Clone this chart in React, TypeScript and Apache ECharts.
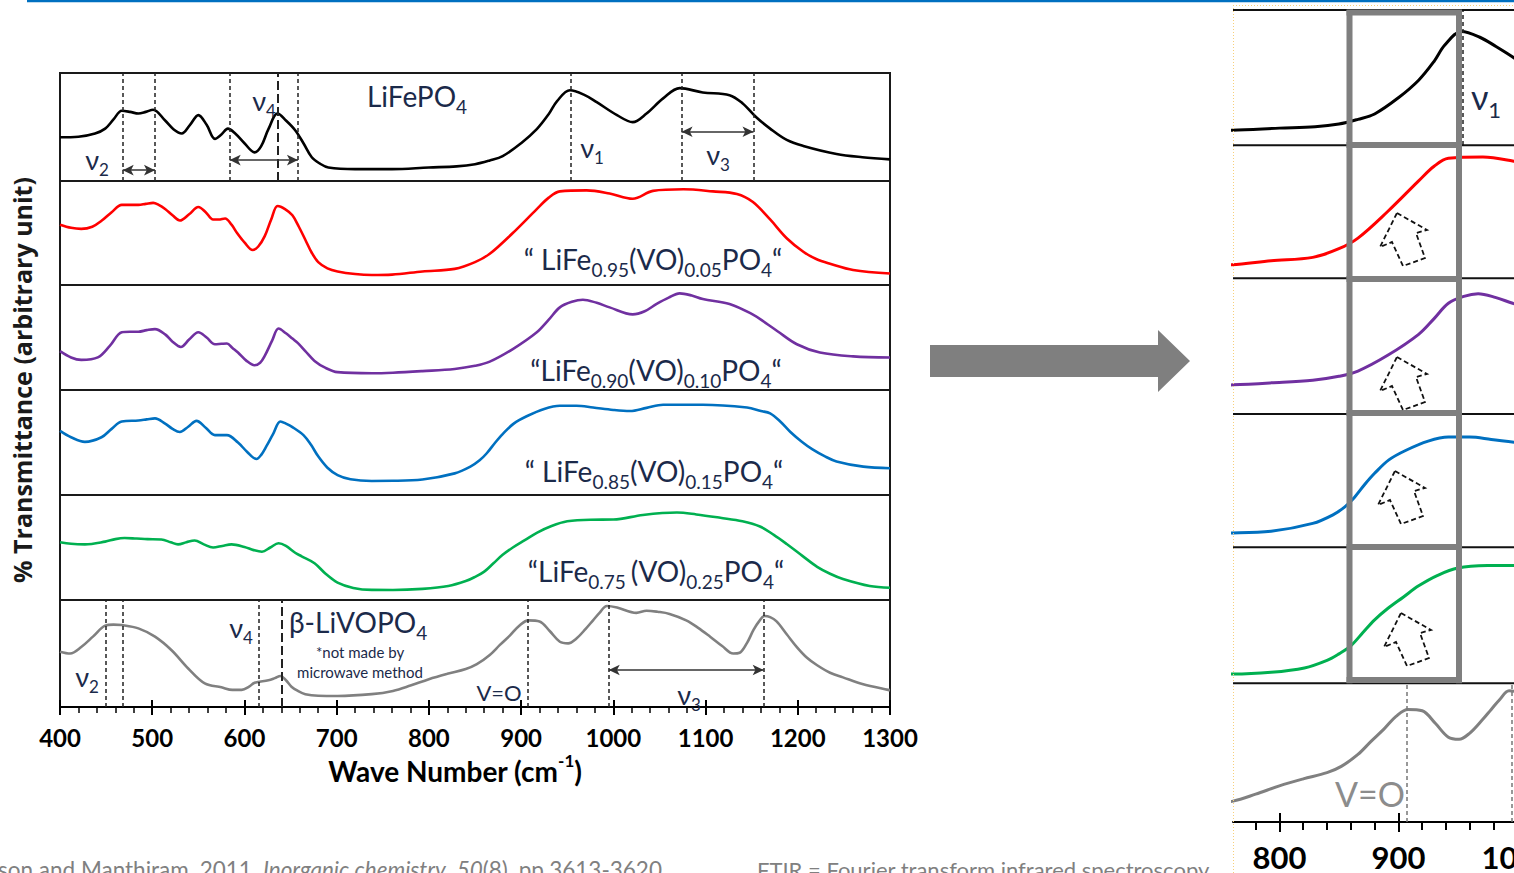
import React, { useEffect, useRef } from 'react';
import * as echarts from 'echarts';

// ---------- data (wavenumber cm-1, relative transmittance within panel 0..100) ----------
const liFePO4: [number, number][] = [
  [400, 40.5], [420, 41], [438, 44], [449, 48.5], [458, 57], [467, 65], [476, 64], [485, 62.5], [493, 64], [501, 66],
  [514, 56], [523, 48], [532, 44], [541, 52], [550, 61], [559, 52], [568, 39], [575, 43], [582, 48.5], [590, 44],
  [600, 35], [611, 26.5], [618, 32], [626, 48], [636, 62.5], [645, 56], [655, 47], [664, 35], [673, 22], [682, 16],
  [691, 12.5], [720, 11], [760, 11], [800, 12.5], [830, 13.5], [850, 15.5], [866, 19], [880, 23], [900, 35], [917, 48],
  [930, 62], [939, 74], [953, 84], [968, 80], [982, 73], [1004, 61], [1021, 54.5], [1036, 62.5], [1054, 76.5], [1072, 86],
  [1097, 82], [1126, 79.5], [1140, 72], [1155, 59], [1170, 48.5], [1188, 38], [1206, 32.5], [1242, 25], [1270, 22], [1300, 20],
];
const vo005: [number, number][] = [
  [400, 58], [412, 55], [423, 54], [435, 56], [445, 61.7], [456, 70], [467, 77], [476, 77], [485, 77], [493, 78],
  [501, 79], [507, 77], [514, 73], [522, 67], [530, 62], [540, 68], [550, 75], [558, 70], [566, 63], [572, 63],
  [579, 64], [586, 58], [592, 50], [600, 41], [609, 33.7], [615, 37], [622, 47], [629, 63], [636, 76], [644, 73],
  [652, 67], [659, 56], [666, 43.5], [673, 31], [680, 22], [690, 16], [701, 13], [720, 10.5], [738, 9.6], [760, 10],
  [793, 13], [828, 15.5], [850, 22], [866, 30], [891, 50], [917, 73], [930, 84], [942, 90], [971, 91], [996, 88],
  [1021, 83], [1043, 90.5], [1076, 92], [1108, 90], [1134, 87.5], [1151, 80], [1170, 63], [1188, 45], [1206, 32], [1220, 25],
  [1235, 20.5], [1260, 14.5], [1300, 11],
];
const vo010: [number, number][] = [
  [400, 37], [412, 31], [423, 28.7], [441, 31], [454, 42], [467, 55], [476, 55.5], [485, 55.5], [494, 57], [503, 58],
  [514, 53], [522, 46], [531, 41], [540, 48], [550, 55], [559, 50], [568, 43.6], [575, 44], [581, 44.3], [587, 40],
  [593, 35.7], [602, 28], [611, 23.6], [617, 26], [622, 32.5], [630, 47], [637, 58.6], [645, 54], [652, 49], [658, 44.6],
  [666, 37], [676, 27.7], [688, 21], [701, 17], [738, 16], [761, 16.5], [793, 18], [828, 20], [850, 23], [866, 27],
  [891, 39], [917, 55], [930, 67], [942, 78.7], [955, 84], [967, 86], [982, 83], [996, 78.7], [1021, 72], [1034, 75],
  [1047, 82], [1060, 88], [1072, 92], [1085, 90], [1097, 86.6], [1126, 82], [1151, 72], [1165, 64], [1178, 56], [1199, 43.6],
  [1224, 35.7], [1260, 32], [1300, 31],
];
const vo015: [number, number][] = [
  [400, 61], [412, 55], [427, 50.6], [445, 55], [456, 63], [467, 70], [485, 71], [494, 72], [503, 73], [514, 68],
  [522, 63], [530, 60], [539, 65], [548, 70.6], [558, 64], [568, 57], [575, 57], [581, 57], [593, 50], [603, 41],
  [613, 34.3], [618, 38], [624, 46.7], [631, 58], [639, 70], [645, 68], [652, 64.7], [664, 57], [672, 48], [680, 36.8],
  [690, 26], [701, 19], [715, 15], [738, 13.4], [761, 13.5], [793, 14.7], [828, 20.6], [845, 27], [855, 33], [863, 40],
  [872, 50], [880, 58], [892, 68], [906, 75], [925, 82], [942, 85], [960, 85], [978, 83.3], [1000, 81], [1018, 80],
  [1036, 83], [1054, 86], [1097, 86], [1145, 83.3], [1160, 80], [1170, 77.7], [1181, 70], [1192, 60], [1204, 51], [1216, 43.4],
  [1229, 37], [1242, 32], [1271, 27], [1300, 25.5],
];
const vo025: [number, number][] = [
  [400, 55], [412, 53.5], [427, 53], [449, 55.6], [460, 58], [470, 59], [483, 58.5], [495, 58], [510, 57.6], [520, 55],
  [528, 53], [537, 55], [546, 56.6], [556, 53], [566, 50], [576, 51.5], [586, 53], [600, 50.5], [610, 47.5], [619, 46],
  [628, 50], [637, 54], [645, 51.5], [655, 45], [662, 41.6], [676, 35], [688, 25], [701, 16.6], [718, 11.5], [738, 9.6],
  [761, 9.5], [793, 10.6], [821, 13.3], [840, 18], [850, 22], [860, 27], [870, 35], [880, 43], [891, 50], [904, 57],
  [917, 64], [933, 70.5], [950, 75], [975, 76.5], [1000, 76.6], [1032, 81], [1069, 83.3], [1090, 81.5], [1116, 78.3], [1140, 75],
  [1159, 70], [1174, 62], [1188, 53.3], [1205, 42], [1221, 31.6], [1235, 25], [1249, 20], [1278, 13.3], [1300, 11.6],
];
const liVOPO4: [number, number][] = [
  [400, 51.7], [411, 50], [423, 56], [436, 66], [449, 76], [458, 77], [467, 76.6], [485, 73.5], [503, 65.7], [521, 53],
  [539, 36], [557, 22], [575, 18.4], [587, 16], [597, 16], [605, 19], [611, 22.7], [626, 25], [633, 27], [639, 29],
  [645, 25], [651, 19], [658, 15], [666, 12], [680, 10.5], [701, 10.3], [738, 12], [761, 15], [780, 20], [800, 26],
  [820, 31], [840, 35.5], [852, 40], [866, 48.6], [877, 58], [888, 67], [898, 76], [908, 81], [920, 80], [931, 71],
  [942, 61], [951, 59.5], [960, 64], [970, 73], [978, 81], [985, 88], [993, 94.4], [1004, 93], [1025, 88], [1036, 90],
  [1048, 89], [1061, 87], [1079, 81], [1092, 74], [1105, 65.7], [1118, 57], [1130, 50], [1137, 50.7], [1145, 60], [1152, 72],
  [1158, 80], [1164, 85], [1170, 84], [1177, 80], [1188, 68], [1199, 56], [1210, 46], [1221, 39], [1235, 32], [1249, 27.7],
  [1270, 21.5], [1298, 16], [1300, 15.8],
];

const spectra = [liFePO4, vo005, vo010, vo015, vo025, liVOPO4];
const colors = ['#000000', '#ff0000', '#7030a0', '#0070c0', '#00b050', '#808080'];

// band positions (cm-1)
const topBands = [468, 503, 584, 658, 954, 1074, 1152];
const topLongDash = 636;
const topArrows: [number, number, number][] = [[468, 503, 10], [584, 658, 19.4], [1074, 1152, 45.6]];
const bottomBands = [450, 468, 615, 907, 995, 1163];
const bottomLongDash = 640;
const bottomArrows: [number, number, number][] = [[995, 1163, 34.6]];

const mainTicks = [800, 900, 1000];
const zoomMinorTicks = [780, 820, 840, 860, 880, 920, 940, 960, 980];

// ---------- layout ----------
const leftTops = [73, 181, 285, 390, 495, 600];
const leftHeights = [108, 104, 105, 105, 105, 107];
const rightTops = [10, 145, 278, 413, 547, 683];
const rightHeights = [135, 133, 135, 134, 136, 139];
const rightYRange = [[0, 100], [0, 100], [-5, 98], [3, 103], [4, 88], [0, 100]];
const R_MIN = 761;
const R_MAX = 1020;
const R_SCALE = 1.19;

const FONT = 'Lato, "Open Sans", "DejaVu Sans", sans-serif';
const NAVY = '#1b2a4a';

function marks(verts: number[], longDash: number | null, arrows: [number, number, number][], color: string, xmax: number, withArrows: boolean) {
  const data: any[] = [];
  verts.filter((v) => v <= xmax).forEach((v) => data.push({ xAxis: v }));
  if (longDash !== null && longDash <= xmax) data.push({ xAxis: longDash, lineStyle: { type: [9, 4], width: 2, color } });
  if (withArrows) {
    arrows.forEach(([a, b, y]) =>
      data.push([
        { coord: [a, y], symbol: 'arrow', symbolSize: [8, 11], lineStyle: { type: 'solid', width: 1.6, color: '#333' } },
        { coord: [b, y], symbol: 'arrow', symbolSize: [8, 11] },
      ])
    );
  }
  return {
    silent: true,
    symbol: ['none', 'none'],
    label: { show: false },
    emphasis: { disabled: true },
    lineStyle: { type: [4, 3], color, width: 1.5 },
    data,
  };
}

function rt(x: number, y: number, text: string, main: number, sub: number, color: string, align = 'center', weight = 'normal', sup = false) {
  const lh = Math.round(main + sub * 0.3);
  return {
    type: 'text',
    x,
    y,
    z: 60,
    style: {
      text,
      align,
      verticalAlign: 'middle',
      rich: {
        m: { fontSize: main, fontFamily: FONT, fill: color, color, fontWeight: weight, verticalAlign: sup ? 'bottom' : 'top', lineHeight: lh },
        s: { fontSize: sub, fontFamily: FONT, fill: color, color, fontWeight: weight, verticalAlign: sup ? 'top' : 'bottom', lineHeight: lh },
      },
    },
  };
}

function plain(x: number, y: number, text: string, size: number, color: string, align = 'center', weight = 'normal') {
  return {
    type: 'text',
    x,
    y,
    z: 60,
    style: { text, align, verticalAlign: 'middle', fontSize: size, fontFamily: FONT, fontWeight: weight, fill: color },
  };
}

const plainNum = (v: number) => String(v);

function buildOption() {
  const grid: any[] = [];
  const xAxis: any[] = [];
  const yAxis: any[] = [];
  const series: any[] = [];

  for (let i = 0; i < 6; i++) {
    grid.push({ left: 60, width: 830, top: leftTops[i], height: leftHeights[i], show: true, borderColor: '#1a1a1a', borderWidth: 2, backgroundColor: 'transparent' });
  }
  for (let i = 0; i < 6; i++) {
    grid.push({ left: 1233, width: (R_MAX - R_MIN) * R_SCALE, top: rightTops[i], height: rightHeights[i], show: false });
  }

  const labelStyle = { fontFamily: FONT, fontWeight: 'bold', color: '#000', formatter: plainNum };

  for (let i = 0; i < 6; i++) {
    const isBottom = i === 5;
    xAxis.push({
      type: 'value', gridIndex: i, position: 'bottom', min: 400, max: 1300, interval: 100, show: isBottom,
      axisLine: { show: isBottom, lineStyle: { color: '#000', width: 2 } },
      axisTick: { show: isBottom, length: 8, lineStyle: { color: '#000', width: 2 } },
      minorTick: { show: isBottom, splitNumber: 5, length: 6, lineStyle: { color: '#000', width: 1.5 } },
      axisLabel: { show: isBottom, fontSize: 24, margin: 18, ...labelStyle },
      splitLine: { show: false }, minorSplitLine: { show: false },
    });
    yAxis.push({ type: 'value', gridIndex: i, min: 0, max: 100, show: false, splitLine: { show: false } });
  }
  for (let i = 0; i < 6; i++) {
    const isBottom = i === 5;
    xAxis.push({
      type: 'value', gridIndex: 6 + i, position: 'bottom', min: R_MIN, max: R_MAX, show: isBottom,
      axisLine: { show: isBottom, lineStyle: { color: '#000', width: 2 } },
      axisTick: { show: isBottom, customValues: mainTicks, length: 10, lineStyle: { color: '#000', width: 2 } },
      axisLabel: { show: isBottom, customValues: mainTicks, fontSize: 31, margin: 19, ...labelStyle },
      splitLine: { show: false },
    });
    yAxis.push({ type: 'value', gridIndex: 6 + i, min: rightYRange[i][0], max: rightYRange[i][1], show: false, splitLine: { show: false } });
  }
  // extra tick axes
  xAxis.push({
    type: 'value', gridIndex: 5, position: 'bottom', min: 400, max: 1300, interval: 100,
    axisLine: { show: false }, axisLabel: { show: false }, splitLine: { show: false },
    axisTick: { show: true, inside: true, length: 7, lineStyle: { color: '#000', width: 2 } },
  });
  xAxis.push({
    type: 'value', gridIndex: 11, position: 'bottom', min: R_MIN, max: R_MAX,
    axisLine: { show: false }, axisLabel: { show: false }, splitLine: { show: false },
    axisTick: { show: true, customValues: zoomMinorTicks, length: 8, lineStyle: { color: '#000', width: 2 } },
  });
  xAxis.push({
    type: 'value', gridIndex: 11, position: 'bottom', min: R_MIN, max: R_MAX,
    axisLine: { show: false }, axisLabel: { show: false }, splitLine: { show: false },
    axisTick: { show: true, inside: true, customValues: mainTicks, length: 9, lineStyle: { color: '#000', width: 2 } },
  });

  for (let i = 0; i < 6; i++) {
    const s: any = {
      type: 'line', xAxisIndex: i, yAxisIndex: i, data: spectra[i], smooth: 0.35, symbol: 'none',
      lineStyle: { color: colors[i], width: 2.6 }, z: 3,
    };
    if (i === 0) s.markLine = marks(topBands, topLongDash, topArrows, '#222', 1300, true);
    if (i === 5) s.markLine = marks(bottomBands, bottomLongDash, bottomArrows, '#222', 1300, true);
    series.push(s);
  }
  for (let i = 0; i < 6; i++) {
    const s: any = {
      type: 'line', xAxisIndex: 6 + i, yAxisIndex: 6 + i, data: spectra[i], smooth: 0.35, symbol: 'none',
      lineStyle: { color: colors[i], width: 3 }, z: 3,
    };
    if (i === 0) s.markLine = marks(topBands.filter((v) => v >= R_MIN), null, [], '#222', R_MAX, false);
    if (i === 5) s.markLine = marks(bottomBands.filter((v) => v >= R_MIN), null, [], '#777', R_MAX, false);
    series.push(s);
  }

  const graphic: any[] = [];
  // top blue rule
  graphic.push({ type: 'line', z: 10, shape: { x1: 27, y1: 1, x2: 1514, y2: 1 }, style: { stroke: '#0070c0', lineWidth: 2.5 } });
  // dotted frame of zoom image
  graphic.push({ type: 'line', z: 10, shape: { x1: 1233.5, y1: 5, x2: 1233.5, y2: 873 }, style: { stroke: '#f7cf7a', lineWidth: 1, lineDash: [1, 2] } });
  graphic.push({ type: 'line', z: 10, shape: { x1: 1233, y1: 5.5, x2: 1514, y2: 5.5 }, style: { stroke: '#f7cf7a', lineWidth: 1, lineDash: [1, 2] } });
  // right panel separators
  [10, 145.3, 278.3, 414, 547.3, 683.3].forEach((y) =>
    graphic.push({ type: 'line', z: 20, shape: { x1: 1233, y1: y, x2: 1514, y2: y }, style: { stroke: '#111', lineWidth: 2 } })
  );
  // grey highlight box
  [1349.5, 1459].forEach((x) =>
    graphic.push({ type: 'line', z: 40, shape: { x1: x, y1: 10, x2: x, y2: 683.3 }, style: { stroke: '#7f7f7f', lineWidth: 6 } })
  );
  [12.5, 145, 279, 413, 547, 680].forEach((y) =>
    graphic.push({ type: 'line', z: 40, shape: { x1: 1346.5, y1: y, x2: 1462, y2: y }, style: { stroke: '#7f7f7f', lineWidth: 6 } })
  );
  // dashed block arrows
  const arrowShape = [[0, 0], [30, 17], [19, 20], [28, 45], [6, 53], [-5, 29], [-17, 34]];
  [[1397, 213], [1397, 357], [1395, 471], [1401, 613]].forEach(([tx, ty]) =>
    graphic.push({
      type: 'polygon', z: 45,
      shape: { points: arrowShape.map(([dx, dy]) => [tx + dx, ty + dy]) },
      style: { fill: 'none', stroke: '#111', lineWidth: 1.8, lineDash: [5, 3] },
    })
  );
  // big grey arrow
  graphic.push({
    type: 'polygon', z: 10,
    shape: { points: [[930, 345], [1158, 345], [1158, 330], [1190, 361], [1158, 392], [1158, 377], [930, 377]] },
    style: { fill: '#7f7f7f' },
  });

  // axis titles
  graphic.push({
    type: 'text', x: 22, y: 380, rotation: Math.PI / 2, z: 60,
    style: { text: '% Transmittance (arbitrary unit)', align: 'center', verticalAlign: 'middle', fontSize: 25, fontWeight: 'bold', fontFamily: '"Open Sans", Lato, sans-serif', fill: '#1a1a1a' },
  });
  graphic.push(rt(455, 768, '{m|Wave Number (cm}{s|-1}{m|)}', 28, 17, '#000', 'center', 'bold', true));

  // annotations, left chart
  graphic.push(rt(97, 162, '{m|ν}{s|2}', 27, 17, NAVY));
  graphic.push(rt(264, 103, '{m|ν}{s|4}', 27, 17, NAVY));
  graphic.push(rt(417, 99, '{m|LiFePO}{s|4}', 28, 19, NAVY));
  graphic.push(rt(592, 150, '{m|ν}{s|1}', 27, 17, NAVY));
  graphic.push(rt(718, 157, '{m|ν}{s|3}', 27, 17, NAVY));
  graphic.push(rt(653, 262, '{m|“ LiFe}{s|0.95}{m|(VO)}{s|0.05}{m|PO}{s|4}{m|“}', 28, 19, NAVY));
  graphic.push(rt(656, 373, '{m|“LiFe}{s|0.90}{m|(VO)}{s|0.10}{m|PO}{s|4}{m|“}', 28, 19, NAVY));
  graphic.push(rt(654, 474, '{m|“ LiFe}{s|0.85}{m|(VO)}{s|0.15}{m|PO}{s|4}{m|“}', 28, 19, NAVY));
  graphic.push(rt(656, 574, '{m|“LiFe}{s|0.75 }{m|(VO)}{s|0.25}{m|PO}{s|4}{m|“}', 28, 19, NAVY));
  graphic.push(rt(87, 679, '{m|ν}{s|2}', 27, 17, NAVY));
  graphic.push(rt(241, 630, '{m|ν}{s|4}', 27, 17, NAVY));
  graphic.push(rt(289, 625, '{m|β-LiVOPO}{s|4}', 28, 19, NAVY, 'left'));
  graphic.push(plain(360, 652, '*not made by', 15, NAVY));
  graphic.push(plain(360, 672, 'microwave method', 15, NAVY));
  graphic.push(plain(499, 692, 'V=O', 22, NAVY));
  graphic.push(rt(689, 697, '{m|ν}{s|3}', 27, 17, NAVY));
  // annotations, zoom chart
  graphic.push(rt(1486, 100, '{m|ν}{s|1}', 34, 22, NAVY));
  graphic.push(plain(1370, 793, 'V=O', 34, '#8c8c8c'));

  // footnotes (cut by page edge)
  graphic.push({
    type: 'text', x: -2, y: 858, z: 60,
    style: {
      text: '{n|son and Manthiram, 2011. }{i|Inorganic chemistry}{n|, }{i|50}{n|(8), pp.3613-3620}',
      align: 'left', verticalAlign: 'top',
      rich: {
        n: { fontSize: 22.5, fontFamily: FONT, fill: '#808080', color: '#808080' },
        i: { fontSize: 22.5, fontFamily: FONT, fontStyle: 'italic', fill: '#808080', color: '#808080' },
      },
    },
  });
  graphic.push({
    type: 'text', x: 757, y: 858, z: 60,
    style: { text: 'FTIR = Fourier transform infrared spectroscopy', align: 'left', verticalAlign: 'top', fontSize: 22, fontFamily: FONT, fill: '#808080' },
  });

  return { animation: false, backgroundColor: '#ffffff', grid, xAxis, yAxis, series, graphic };
}

export default function App() {
  const ref = useRef<HTMLDivElement>(null);
  useEffect(() => {
    if (!ref.current) return;
    const chart = echarts.init(ref.current, null, { renderer: 'svg' });
    chart.setOption(buildOption() as any);
    return () => chart.dispose();
  }, []);
  return (
    <div style={{ position: 'absolute', left: 0, top: 0, width: 1514, height: 873, overflow: 'hidden', background: '#fff' }}>
      <div ref={ref} style={{ position: 'absolute', left: 0, top: 0, width: 1570, height: 873 }} />
    </div>
  );
}
